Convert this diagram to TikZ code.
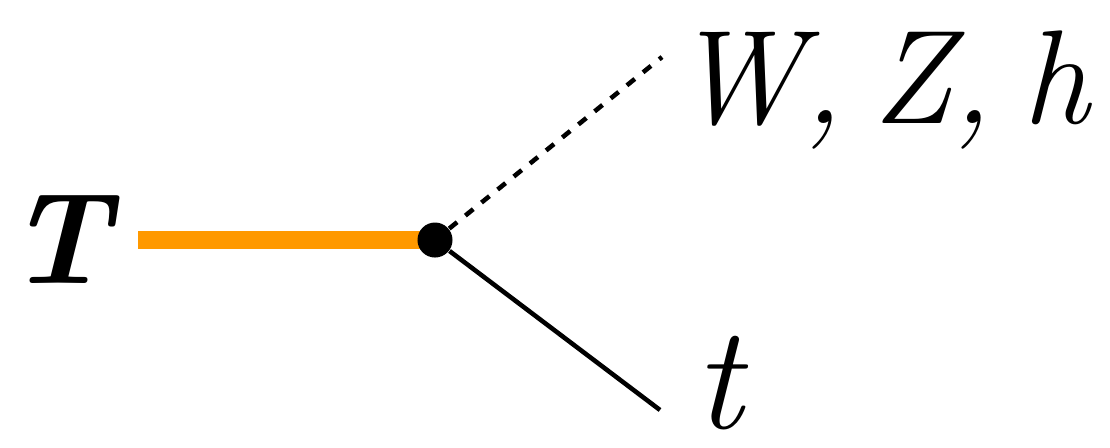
\documentclass[tikz,border=0pt]{standalone}
\usepackage{tikz}
\usetikzlibrary{backgrounds}

\begin{document}
\begin{tikzpicture}[
  x=0.01cm, y=-0.01cm,
  lbl/.style={inner sep=0pt, font=\fontsize{38}{38}\selectfont\itshape},
  heavy/.style={line width=5.1pt, draw={rgb,255:red,255;green,153;blue,0}},
  ferm/.style={line width=1.3pt, draw=black},
  bos/.style={line width=1.3pt, draw=black, dash pattern=on 2.9pt off 3pt},
  vtx/.style={circle, fill=black, inner sep=0pt, minimum size=0.35cm}
]
\useasboundingbox (0,0) rectangle (1110,447);
\node[lbl, font=\fontsize{37}{37}\selectfont\bfseries\itshape, anchor=base] (T) at (58,283) {T};
\node[vtx] (v) at (435,240) {};
\node[lbl, anchor=base west] (WZh) at (672,123) {W,\hspace{0.22em}Z,\hspace{0.22em}h};
\node[lbl, font=\fontsize{42}{42}\selectfont\itshape, anchor=base west] (t) at (694,428) {t};
\coordinate (Tend) at (138,240);
\coordinate (Wend) at (662,57);
\coordinate (tend) at (660,410);
\begin{pgfonlayer}{background}
\draw[heavy] (Tend) -- (v.center);
\end{pgfonlayer}
\draw[bos]   (v) -- (Wend);
\draw[ferm]  (v) -- (tend);
\end{tikzpicture}
\end{document}
